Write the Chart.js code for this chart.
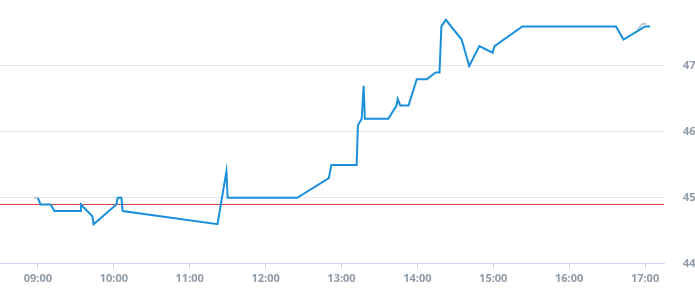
<!DOCTYPE html>
<html>
<head>
<meta charset="utf-8">
<script src="https://cdn.jsdelivr.net/npm/chart.js@4/dist/chart.umd.min.js"></script>
<style>
  html, body { margin: 0; padding: 0; background: #fff; }
  #wrap { width: 695px; height: 300px; }
</style>
</head>
<body>
<div id="wrap"><canvas id="price_chart"></canvas></div>
<script>
// minutes since midnight, price
let priceTimes = [540, 542, 550, 553, 573.5, 574, 583, 584, 602, 603, 606, 607,
    682, 689, 690, 745, 770, 772, 792, 793, 796, 797.5, 798.5, 817, 823.5, 824.5,
    826.5, 833, 839.5, 847.5, 854.5, 857.5, 859, 862.5, 875, 881, 889, 899.5, 901,
    923, 997, 1003, 1016, 1020, 1024];
let priceValues = [45.0, 44.9, 44.9, 44.8, 44.8, 44.9, 44.72, 44.6, 44.9, 45.0, 45.0, 44.8,
    44.6, 45.4, 45.0, 45.0, 45.3, 45.5, 45.5, 46.1, 46.2, 46.7, 46.2, 46.2, 46.4, 46.5,
    46.4, 46.4, 46.8, 46.8, 46.9, 46.9, 47.6, 47.7, 47.4, 47.0, 47.3, 47.2, 47.3,
    47.6, 47.6, 47.4, 47.55, 47.6, 47.6];
let greyTimes = [[536.5, 540], [1014, 1018, 1021]];
let greyValues = [[45.0, 45.0], [47.55, 47.64, 47.64]];
let referencePrice = 44.9;
let hourTicks = [540, 600, 660, 720, 780, 840, 900, 960, 1020];
let yTicks = [44, 45, 46, 47];

function toPoints(xs, ys) {
    return xs.map((x, i) => ({ x: x, y: ys[i] }));
}

function hhmm(m) {
    let h = Math.floor(m / 60);
    let mm = Math.round(m % 60);
    return String(h).padStart(2, '0') + ':' + String(mm).padStart(2, '0');
}

const xMin = 510, xMax = 1035;
const labelFont = { family: 'Open Sans', size: 11, weight: 'bold' };
const labelColor = '#8e9aa6';

const priceChartConfig = {
    type: 'line',
    data: {
        datasets: [
            {
                data: toPoints(priceTimes, priceValues),
                borderColor: '#1a90db',
                borderWidth: 2,
                pointRadius: 0,
                tension: 0
            },
            {
                data: toPoints(greyTimes[0], greyValues[0]),
                borderColor: '#bfcad4',
                borderWidth: 2,
                pointRadius: 0
            },
            {
                data: toPoints(greyTimes[1], greyValues[1]),
                borderColor: '#bfcad4',
                borderWidth: 2,
                pointRadius: 0
            },
            {
                data: [{ x: xMin, y: referencePrice }, { x: xMax, y: referencePrice }],
                borderColor: '#d23c3c',
                borderWidth: 1,
                pointRadius: 0
            }
        ]
    },
    options: {
        responsive: true,
        maintainAspectRatio: false,
        animation: false,
        layout: { padding: { top: 0, bottom: 12, left: 0, right: 0 } },
        scales: {
            x: {
                type: 'linear',
                min: xMin,
                max: xMax,
                afterBuildTicks: (scale) => { scale.ticks = hourTicks.map(v => ({ value: v })); },
                grid: {
                    drawOnChartArea: false,
                    color: '#ccd6eb',
                    tickLength: 5
                },
                border: { color: '#ccd6eb' },
                ticks: {
                    callback: (v) => hhmm(v),
                    color: labelColor,
                    font: labelFont,
                    padding: 3,
                    maxRotation: 0
                }
            },
            y: {
                position: 'right',
                min: 44,
                max: 48,
                afterBuildTicks: (scale) => { scale.ticks = yTicks.map(v => ({ value: v })); },
                afterFit: (scale) => {
                    scale.width = 31;
                    scale.paddingTop = 0;
                    scale.paddingBottom = 0;
                },
                grid: {
                    color: '#e6e6e6',
                    drawTicks: false
                },
                border: { display: false },
                ticks: {
                    color: labelColor,
                    font: labelFont,
                    padding: 19
                }
            }
        },
        plugins: {
            legend: { display: false },
            tooltip: { enabled: false }
        }
    }
};

const priceChart = new Chart(document.getElementById('price_chart'), priceChartConfig);
</script>
</body>
</html>
